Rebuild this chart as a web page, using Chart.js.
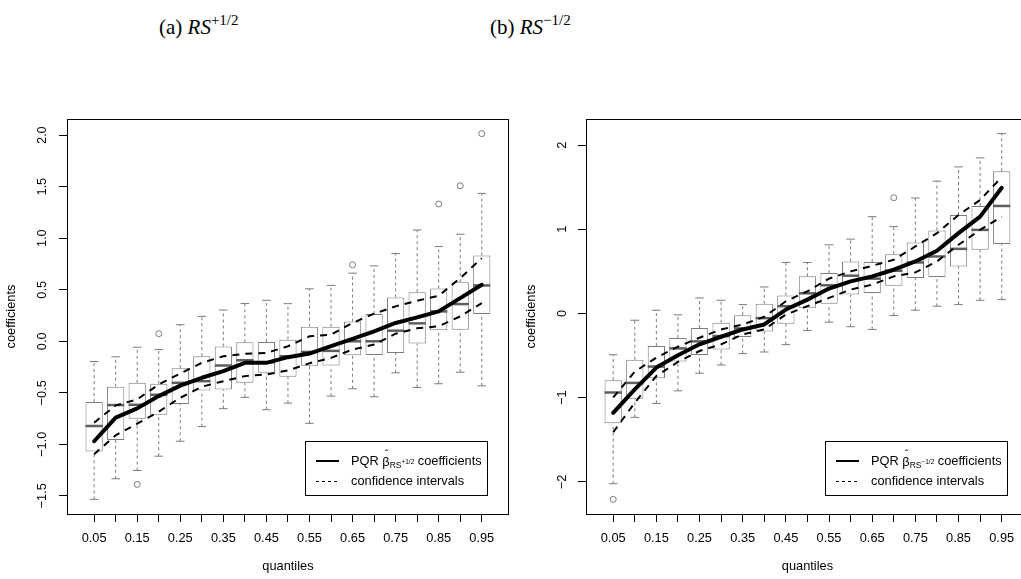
<!DOCTYPE html>
<html>
<head>
<meta charset="utf-8">
<script src="https://cdn.jsdelivr.net/npm/chart.js@4.4.1/dist/chart.umd.min.js"></script>
<style>
  html, body { margin: 0; padding: 0; width: 1021px; height: 579px; overflow: hidden; background: #fff; }
  canvas { position: absolute; top: 0; }
  #chartA { left: 0; }
  #chartB { left: 520px; }
  .cap { position: absolute; top: 9px; font-family: 'Liberation Serif', serif; font-size: 21px; line-height: 24px; color: #000; white-space: nowrap; }
  .cap sup { font-size: 15px; position: relative; top: -1px; }
</style>
</head>
<body>
<div class="cap" style="left:159px">(a) <i>RS</i><sup>+1/2</sup></div>
<div class="cap" style="left:490px">(b) <i>RS</i><sup>&minus;1/2</sup></div>
<canvas id="chartA" width="520" height="579"></canvas>
<canvas id="chartB" width="520" height="579"></canvas>
<script>
// Shared categories ------------------------------------------------------------
const quantiles = [0.05, 0.10, 0.15, 0.20, 0.25, 0.30, 0.35, 0.40, 0.45, 0.50,
                   0.55, 0.60, 0.65, 0.70, 0.75, 0.80, 0.85, 0.90, 0.95];

// Panel (a) RS+1/2 ---------------------------------------------------------------
const hiA  = [-0.196, -0.151, -0.058, -0.080, 0.161, 0.242, 0.303, 0.367, 0.397, 0.365,
              0.509, 0.542, 0.661, 0.732, 0.851, 1.080, 0.919, 1.039, 1.435];
const q3A  = [-0.590, -0.441, -0.403, -0.412, -0.261, -0.145, -0.051, -0.010, -0.006, 0.016,
              0.142, 0.142, 0.191, 0.265, 0.426, 0.477, 0.513, 0.574, 0.832];
const medA = [-0.822, -0.619, -0.616, -0.519, -0.403, -0.387, -0.235, -0.184, -0.203, -0.145,
              -0.103, -0.093, 0.000, 0.000, 0.103, 0.174, 0.290, 0.361, 0.542];
const q1A  = [-1.070, -0.957, -0.751, -0.712, -0.609, -0.477, -0.467, -0.403, -0.306, -0.345,
              -0.238, -0.235, -0.135, -0.132, -0.113, -0.022, 0.106, 0.113, 0.265];
const loA  = [-1.534, -1.334, -1.254, -1.115, -0.970, -0.828, -0.654, -0.544, -0.664, -0.600,
              -0.796, -0.532, -0.461, -0.538, -0.306, -0.448, -0.412, -0.300, -0.432];
const outPosA = [3, 4, 13, 17, 18, 19];
const outValA = [-1.389, 0.074, 0.742, 1.332, 1.509, 2.015];
const coefA  = [-0.970, -0.741, -0.651, -0.532, -0.430, -0.354, -0.290, -0.209, -0.209, -0.154,
                -0.119, -0.048, 0.023, 0.097, 0.178, 0.232, 0.290, 0.419, 0.548];
const ciUpA  = [-0.790, -0.622, -0.564, -0.419, -0.312, -0.209, -0.145, -0.122, -0.113, -0.048,
                0.048, 0.065, 0.178, 0.268, 0.339, 0.394, 0.442, 0.613, 0.806];
const ciLoA  = [-1.096, -0.912, -0.800, -0.683, -0.548, -0.441, -0.387, -0.338, -0.322, -0.283,
                -0.213, -0.161, -0.080, -0.032, 0.074, 0.126, 0.145, 0.242, 0.371];
const yTicksA = [-1.5, -1.0, -0.5, 0.0, 0.5, 1.0, 1.5, 2.0];
const yLabelsA = ['\u22121.5', '\u22121.0', '\u22120.5', '0.0', '0.5', '1.0', '1.5', '2.0'];

// Panel (b) RS-1/2 ---------------------------------------------------------------
const hiB  = [-0.490, -0.080, 0.039, -0.016, 0.185, 0.157, 0.106, 0.315, 0.606, 0.606,
              0.816, 0.883, 1.150, 1.032, 1.371, 1.572, 1.741, 1.848, 2.136];
const q3B  = [-0.792, -0.548, -0.386, -0.292, -0.173, -0.110, -0.020, 0.115, 0.213, 0.441,
              0.481, 0.618, 0.611, 0.705, 0.843, 0.985, 1.170, 1.277, 1.690];
const medB = [-0.938, -0.824, -0.630, -0.414, -0.331, -0.268, -0.177, -0.055, 0.087, 0.240,
              0.335, 0.449, 0.414, 0.508, 0.606, 0.677, 0.768, 0.993, 1.277];
const q1B  = [-1.304, -1.013, -0.768, -0.571, -0.492, -0.426, -0.280, -0.213, -0.122, 0.067,
              0.115, 0.225, 0.245, 0.331, 0.422, 0.434, 0.559, 0.757, 0.824];
const loB  = [-2.021, -1.233, -1.068, -0.918, -0.709, -0.611, -0.476, -0.457, -0.370, -0.201,
              -0.102, -0.157, -0.189, -0.024, 0.039, 0.087, 0.106, 0.157, 0.165];
const outPosB = [1, 14];
const outValB = [-2.207, 1.375];
const coefB  = [-1.180, -0.900, -0.642, -0.496, -0.366, -0.276, -0.189, -0.130, 0.047, 0.165,
                0.296, 0.382, 0.441, 0.520, 0.618, 0.745, 0.954, 1.150, 1.493];
const ciUpB  = [-0.997, -0.690, -0.524, -0.394, -0.288, -0.189, -0.130, -0.039, 0.145, 0.264,
                0.414, 0.500, 0.567, 0.638, 0.796, 0.954, 1.170, 1.348, 1.620];
const ciLoB  = [-1.410, -1.060, -0.741, -0.575, -0.445, -0.366, -0.248, -0.189, -0.012, 0.087,
                0.185, 0.284, 0.343, 0.441, 0.488, 0.618, 0.816, 0.993, 1.150];
const yTicksB = [-2, -1, 0, 1, 2];
const yLabelsB = ['\u22122', '\u22121', '0', '1', '2'];

// ----------------------------------------------------------------------------------
const FONT = 'Liberation Sans';
const BOX_GREY = '#7c7c7c';
const MED_GREY = '#5e5e5e';

// box around the plot region, like R's bty = "o"
const framePlugin = {
    id: 'frame',
    afterDatasetsDraw(chart) {
        const a = chart.chartArea, ctx = chart.ctx;
        ctx.save();
        ctx.strokeStyle = '#000';
        ctx.lineWidth = 1;
        ctx.strokeRect(Math.round(a.left) + 0.5, Math.round(a.top) + 0.5,
                       Math.round(a.right - a.left) - 1, Math.round(a.bottom - a.top));
        ctx.restore();
    }
};

// R style legend in the bottom right corner
const legendPlugin = {
    id: 'rlegend',
    afterDatasetsDraw(chart, args, opts) {
        const a = chart.chartArea, ctx = chart.ctx;
        const w = 182, h = 54;
        const x0 = Math.round(a.right - 22 - w), y0 = Math.round(a.bottom - 19 - h);
        const r1 = y0 + 20, r2 = y0 + 40;
        ctx.save();
        ctx.fillStyle = '#fff';
        ctx.fillRect(x0, y0, w, h);
        ctx.strokeStyle = '#000';
        ctx.lineWidth = 1;
        ctx.strokeRect(x0 + 0.5, y0 + 0.5, w, h);

        ctx.lineWidth = 2;
        ctx.beginPath(); ctx.moveTo(x0 + 11, r1); ctx.lineTo(x0 + 34, r1); ctx.stroke();
        ctx.lineWidth = 1;
        ctx.setLineDash([3, 3]);
        ctx.beginPath(); ctx.moveTo(x0 + 11, r2 + 0.5); ctx.lineTo(x0 + 34, r2 + 0.5); ctx.stroke();
        ctx.setLineDash([]);

        ctx.fillStyle = '#000';
        ctx.textBaseline = 'middle';
        ctx.textAlign = 'left';
        let tx = x0 + 46;
        ctx.font = '12.8px "' + FONT + '"';
        ctx.fillText('PQR ', tx, r1);
        tx += ctx.measureText('PQR ').width;
        ctx.fillText('\u03b2', tx, r1 + 1);
        const bw = ctx.measureText('\u03b2').width;
        ctx.textAlign = 'center';
        ctx.font = '11px "' + FONT + '"';
        ctx.fillText('\u02c6', tx + bw / 2 + 0.5, r1 - 6);
        ctx.textAlign = 'left';
        tx += bw;
        ctx.font = '8.5px "' + FONT + '"';
        ctx.fillText('RS', tx, r1 + 5);
        tx += ctx.measureText('RS').width;
        ctx.font = '6.5px "' + FONT + '"';
        ctx.fillText(opts.sup, tx, r1 + 1);
        tx += ctx.measureText(opts.sup).width;
        ctx.font = '12.8px "' + FONT + '"';
        ctx.fillText(' coefficients', tx, r1);
        ctx.fillText('confidence intervals', x0 + 46, r2);
        ctx.restore();
    }
};

function makeChart(id, d) {
    const xs = quantiles.map((q, i) => i + 1);
    const pts = arr => arr.map((v, i) => ({x: xs[i], y: v}));

    // dashed whiskers: lower whisker to Q1, Q3 to upper whisker
    const whiskers = [];
    xs.forEach((x, i) => {
        whiskers.push({x: x, y: d.lo[i]}, {x: x, y: d.q1[i]}, {x: x, y: null},
                      {x: x, y: d.q3[i]}, {x: x, y: d.hi[i]}, {x: x, y: null});
    });

    // R extends both axes by 4%
    const n = quantiles.length;
    const all = d.lo.concat(d.hi, d.outVal);
    const yLo = Math.min(...all), yHi = Math.max(...all), ext = (yHi - yLo) * 0.04;

    return new Chart(document.getElementById(id), {
        type: 'scatter',
        data: {
            datasets: [
                {
                    type: 'line', data: whiskers, order: 6,
                    borderColor: BOX_GREY, borderWidth: 1, borderDash: [3, 3],
                    pointRadius: 0, spanGaps: false
                },
                {
                    type: 'bar', order: 5,
                    data: xs.map((x, i) => ({x: x, y: [d.q1[i], d.q3[i]]})),
                    backgroundColor: '#fff', borderColor: BOX_GREY, borderWidth: 1,
                    borderSkipped: false, barPercentage: 0.8, categoryPercentage: 1
                },
                {
                    type: 'scatter', order: 5, data: pts(d.hi).concat(pts(d.lo)),
                    pointStyle: 'line', pointRadius: 4.3, borderWidth: 1,
                    borderColor: BOX_GREY
                },
                {
                    type: 'scatter', order: 4, data: pts(d.med),
                    pointStyle: 'line', pointRadius: 8.6, borderWidth: 2.5,
                    borderColor: MED_GREY
                },
                {
                    type: 'scatter', order: 4,
                    data: d.outPos.map((p, i) => ({x: p, y: d.outVal[i]})),
                    pointStyle: 'circle', pointRadius: 3, borderWidth: 1,
                    borderColor: BOX_GREY, backgroundColor: 'rgba(0,0,0,0)'
                },
                {
                    type: 'line', order: 2, data: pts(d.ciUp),
                    borderColor: '#000', borderWidth: 2, borderDash: [7, 6], pointRadius: 0
                },
                {
                    type: 'line', order: 2, data: pts(d.ciLo),
                    borderColor: '#000', borderWidth: 2, borderDash: [7, 6], pointRadius: 0
                },
                {
                    type: 'line', order: 1, data: pts(d.coef),
                    borderColor: '#000', borderWidth: 4, pointRadius: 0,
                    borderCapStyle: 'round', borderJoinStyle: 'round'
                }
            ]
        },
        options: {
            responsive: false,
            animation: false,
            events: [],
            layout: { padding: { left: 0, top: 119, right: 11, bottom: 0 } },
            plugins: {
                legend: { display: false },
                tooltip: { enabled: false },
                rlegend: { sup: d.sup }
            },
            scales: {
                x: {
                    type: 'linear', offset: false,
                    min: 0.5 - 0.04 * n, max: n + 0.5 + 0.04 * n,
                    afterBuildTicks: s => { s.ticks = xs.map(v => ({value: v})); },
                    afterFit: s => { s.height = 65; },
                    grid: { display: true, offset: false, drawOnChartArea: false, drawTicks: true,
                            tickLength: 8, color: '#000', lineWidth: 1 },
                    border: { display: true, color: '#000', width: 1 },
                    ticks: {
                        autoSkip: false, maxRotation: 0, minRotation: 0, padding: 9,
                        color: '#000', font: { family: FONT, size: 12.8 },
                        callback: (v, i) => (i % 2 === 0 ? quantiles[i].toFixed(2) : '')
                    },
                    title: { display: true, text: 'quantiles', color: '#000',
                             font: { family: FONT, size: 12.8 }, padding: { top: 0, bottom: 5 } }
                },
                y: {
                    type: 'linear', beginAtZero: false,
                    min: yLo - ext, max: yHi + ext,
                    afterBuildTicks: s => { s.ticks = d.yTicks.map(v => ({value: v})); },
                    afterFit: s => { s.width = d.axisW; },
                    grid: { display: true, drawOnChartArea: false, drawTicks: true,
                            tickLength: 8, color: '#000', lineWidth: 1 },
                    border: { display: true, color: '#000', width: 1 },
                    ticks: {
                        minRotation: 90, maxRotation: 90, crossAlign: 'center', padding: d.tickPad,
                        color: '#000', font: { family: FONT, size: 12.8 },
                        callback: (v, i) => d.yLabels[i]
                    },
                    title: { display: true, text: 'coefficients', color: '#000',
                             font: { family: FONT, size: 12.8 }, padding: { top: 4, bottom: 0 } }
                }
            }
        },
        plugins: [framePlugin, legendPlugin]
    });
}

makeChart('chartA', {
    hi: hiA, q3: q3A, med: medA, q1: q1A, lo: loA, outPos: outPosA, outVal: outValA,
    coef: coefA, ciUp: ciUpA, ciLo: ciLoA, yTicks: yTicksA, yLabels: yLabelsA,
    sup: '+1/2', axisW: 67, tickPad: 4
});
makeChart('chartB', {
    hi: hiB, q3: q3B, med: medB, q1: q1B, lo: loB, outPos: outPosB, outVal: outValB,
    coef: coefB, ciUp: ciUpB, ciLo: ciLoB, yTicks: yTicksB, yLabels: yLabelsB,
    sup: '\u22121/2', axisW: 66, tickPad: 8
});
</script>
</body>
</html>
